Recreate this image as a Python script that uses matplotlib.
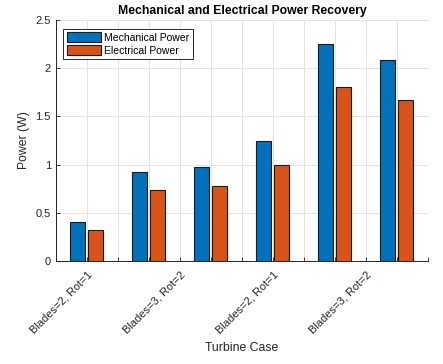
import numpy as np
import matplotlib
matplotlib.use("Agg")
import matplotlib.pyplot as plt

# values
cases = [1, 2, 3, 4, 5, 6]
mech_power = [0.40, 0.92, 0.97, 1.25, 2.25, 2.09]
elec_power = [0.32, 0.74, 0.78, 1.00, 1.80, 1.67]
tick_pos = [1, 2.5, 4, 5.5]
tick_labels = ['Blades=2, Rot=1', 'Blades=3, Rot=2', 'Blades=2, Rot=1', 'Blades=3, Rot=2']

plt.rcParams['font.family'] = ['Liberation Sans', 'DejaVu Sans']

fig = plt.figure(figsize=(4.43, 3.64), dpi=100)
ax = fig.add_axes([0.126, 0.283, 0.84, 0.662])

x = np.array(cases, dtype=float)
w = 0.24
off = 0.145
ax.bar(x - off, mech_power, w, color='#0072BD', edgecolor='#1a1a1a', linewidth=0.8,
       label='Mechanical Power', zorder=3)
ax.bar(x + off, elec_power, w, color='#D95319', edgecolor='#1a1a1a', linewidth=0.8,
       label='Electrical Power', zorder=3)

ax.set_xlim(0.5, 6.5)
ax.set_ylim(0, 2.5)
ax.set_yticks(np.arange(0, 2.51, 0.5))
ax.set_yticklabels(['0', '0.5', '1', '1.5', '2', '2.5'])

# grid every 0.5 on x, labels only on a few of them
ax.set_xticks(np.arange(0.5, 6.51, 0.5))
ax.set_xticklabels([])
for p, lab in zip(tick_pos, tick_labels):
    ax.annotate(lab, xy=(p, 0), xycoords='data', xytext=(3, -9),
                textcoords='offset points', rotation=45, ha='right', va='center',
                rotation_mode='anchor', fontsize=8, color='#262626')

ax.grid(True, color='#e3e3e3', linewidth=0.7, zorder=0)
ax.set_axisbelow(True)
ax.tick_params(direction='in', length=3, width=0.6, colors='#262626', labelsize=8)
for s in ['top', 'right']:
    ax.spines[s].set_visible(False)
for s in ['left', 'bottom']:
    ax.spines[s].set_color('#262626')
    ax.spines[s].set_linewidth(0.7)

ax.set_title('Mechanical and Electrical Power Recovery', fontsize=8.8,
             fontweight='bold', pad=4)
ax.set_ylabel('Power (W)', fontsize=8.8, color='#262626', labelpad=4)
ax.set_xlabel('Turbine Case', fontsize=8.8, color='#262626', labelpad=55)

leg = ax.legend(loc='upper left', fontsize=7.5, frameon=True, fancybox=False,
                edgecolor='#262626', framealpha=1, handlelength=3.3, handleheight=1.1,
                handletextpad=0.3, borderpad=0.35, labelspacing=0.2,
                bbox_to_anchor=(0.005, 0.985))
leg.get_frame().set_linewidth(0.7)

fig.savefig('out.png', dpi=100)
